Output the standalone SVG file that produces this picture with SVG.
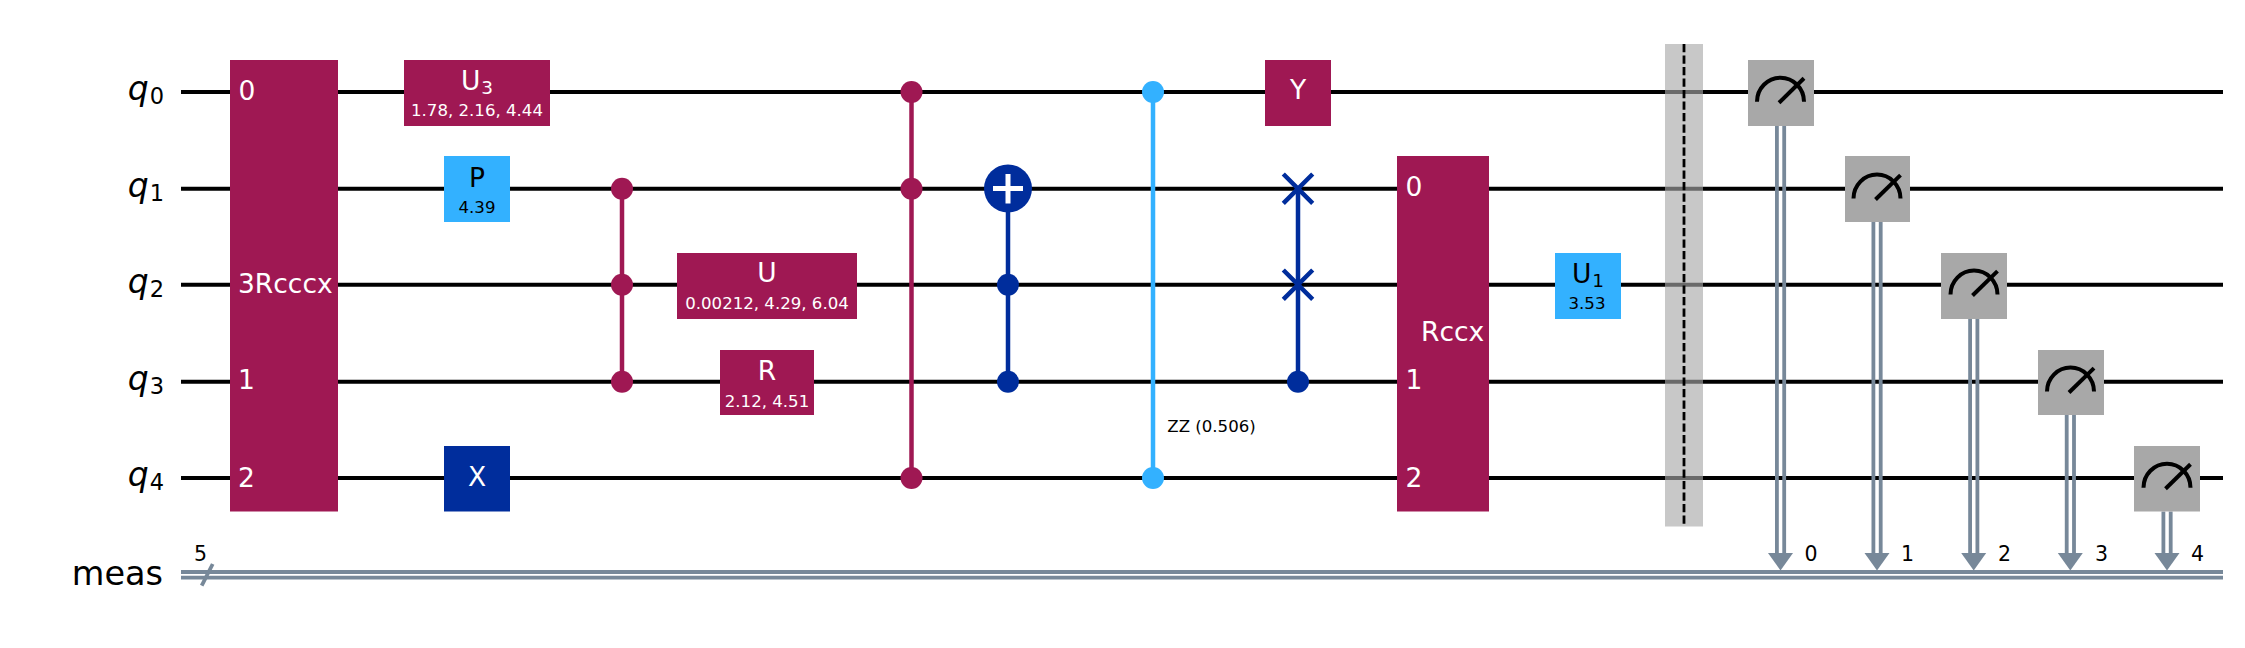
<svg xmlns="http://www.w3.org/2000/svg" xmlns:xlink="http://www.w3.org/1999/xlink" width="2245" height="648" viewBox="0 0 2245 648">
<style>
text{font-family:"DejaVu Sans",sans-serif;fill:#000}
.w{fill:#fff}
.g{font-size:26.5px}
.s{font-size:16.6px}
.r{font-size:20.5px}
.m{text-anchor:middle}
.sub{font-size:18.5px}
.q{font-size:33px;font-style:italic;text-anchor:end}
.qs{font-size:22.5px;font-style:normal}
.wire{stroke:#000;stroke-width:4;fill:none}
.creg{stroke:#778899;stroke-width:3.8;fill:none}
.pu{fill:#9f1853}.bl{fill:#002d9c}.lb{fill:#33b1ff}.gr{fill:#a8a8a8}
.cpu{stroke:#9f1853;stroke-width:4.5;fill:none}
.cbl{stroke:#002d9c;stroke-width:4.5;fill:none}
.clb{stroke:#33b1ff;stroke-width:4.5;fill:none}
.meter{stroke:#000;stroke-width:4;fill:none}
</style>
<defs>
<g id="dial"><path class="meter" d="M-23.5 9.7A23.5 24 0 0 1 23.500 9.7"/><path class="meter" d="M-1.500 10.700L23.500-13.700"/></g>
<polygon id="arrow" points="-12.500,0 12.500,0 0,17.500" fill="#778899"/>
</defs>
<rect width="2245" height="648" fill="#fff"/>
<g id="connectors">
<path class="wire" d="M181 92H2223M181 188.800H2223M181 284.800H2223M181 381.800H2223M181 478H2223"/>
<path class="creg" d="M181 572H2223M181 577.700H2223"/>
<path d="M201.700 585.700L212.700 564" stroke="#778899" stroke-width="3.800" fill="none"/>
<path class="cpu" d="M622 188.800V381.800"/>
<path class="cpu" d="M911.500 92V478"/>
<path class="cbl" d="M1008 188.800V381.800"/>
<path class="clb" d="M1153 92V478"/>
<path class="cbl" d="M1298 188.800V381.800"/>
<g id="barrier">
<rect x="1665" y="44" width="38" height="482.500" fill="#a8a8a8" fill-opacity=".63"/>
<path d="M1684 44V526.500" stroke="#000" stroke-width="2.800" stroke-dasharray="8.200 3.300" fill="none"/>
</g>
<path class="creg" d="M1776.900 126V553M1784.200 126V553M1873.400 222V553M1880.700 222V553M1970.100 319V553M1977.400 319V553M2066.700 415V553M2074 415V553M2163.400 511.500V553M2170.700 511.500V553"/>
<use xlink:href="#arrow" href="#arrow" x="1780.500" y="553"/>
<use xlink:href="#arrow" href="#arrow" x="1877" y="553"/>
<use xlink:href="#arrow" href="#arrow" x="1973.700" y="553"/>
<use xlink:href="#arrow" href="#arrow" x="2070.300" y="553"/>
<use xlink:href="#arrow" href="#arrow" x="2167" y="553"/>
</g>
<g id="labels">
<text class="q" x="164" y="100">q<tspan class="qs" dx="1" dy="4.400">0</tspan></text>
<text class="q" x="164" y="196.800">q<tspan class="qs" dx="1" dy="4.400">1</tspan></text>
<text class="q" x="164" y="292.800">q<tspan class="qs" dx="1" dy="4.400">2</tspan></text>
<text class="q" x="164" y="389.800">q<tspan class="qs" dx="1" dy="4.400">3</tspan></text>
<text class="q" x="164" y="486">q<tspan class="qs" dx="1" dy="4.400">4</tspan></text>
<text x="163" y="585" font-size="33.500" text-anchor="end">meas</text>
<text class="r m" x="200.500" y="560.500">5</text>
<text class="r m" x="1811" y="560.500">0</text>
<text class="r m" x="1907.500" y="560.500">1</text>
<text class="r m" x="2004.500" y="560.500">2</text>
<text class="r m" x="2101.500" y="560.500">3</text>
<text class="r m" x="2197.500" y="560.500">4</text>
</g>
<g id="gate-rcccx">
<rect class="pu" x="230" y="60" width="108" height="451.500"/>
<text class="g w" x="238.500" y="99.500">0</text>
<text class="g w" x="238" y="389">1</text>
<text class="g w" x="238" y="486.500">2</text>
<text class="g w" x="238" y="292.500">3Rcccx</text>
</g>
<g id="gate-u3">
<rect class="pu" x="404" y="60" width="146" height="66"/>
<text class="g w m" x="477" y="90">U<tspan class="sub" dx="1" dy="3.500">3</tspan></text>
<text class="s w m" x="477" y="116">1.78, 2.16, 4.44</text>
</g>
<g id="gate-p">
<rect class="lb" x="444" y="156" width="66" height="66"/>
<text class="g m" x="477" y="187">P</text>
<text class="s m" x="477" y="213">4.39</text>
</g>
<g id="gate-x">
<rect class="bl" x="444" y="446" width="66" height="65.500"/>
<text class="g w m" x="477" y="486">X</text>
</g>
<g id="gate-ccz" class="pu">
<circle cx="622" cy="188.800" r="11"/><circle cx="622" cy="284.800" r="11"/><circle cx="622" cy="381.800" r="11"/>
</g>
<g id="gate-u">
<rect class="pu" x="677" y="253" width="180" height="66"/>
<text class="g w m" x="767" y="282">U</text>
<text class="s w m" x="767" y="309">0.00212, 4.29, 6.04</text>
</g>
<g id="gate-r">
<rect class="pu" x="720" y="350" width="94" height="65"/>
<text class="g w m" x="767" y="379.500">R</text>
<text class="s w m" x="767" y="406.700">2.12, 4.51</text>
</g>
<g id="gate-cccz" class="pu">
<circle cx="911.500" cy="92" r="11"/><circle cx="911.500" cy="188.800" r="11"/><circle cx="911.500" cy="478" r="11"/>
</g>
<g id="gate-ccx">
<circle class="bl" cx="1008" cy="284.800" r="11"/><circle class="bl" cx="1008" cy="381.800" r="11"/>
<circle class="bl" cx="1008" cy="188.500" r="24"/>
<path d="M993 188.500H1023M1008 174V203.500" stroke="#fff" stroke-width="5" fill="none"/>
</g>
<g id="gate-zz">
<circle class="lb" cx="1153" cy="92" r="11"/><circle class="lb" cx="1153" cy="478" r="11"/>
<text class="s" x="1167.300" y="431.700">ZZ (0.506)</text>
</g>
<g id="gate-y">
<rect class="pu" x="1265" y="60" width="66" height="66"/>
<text class="g w m" x="1298" y="99">Y</text>
</g>
<g id="gate-cswap">
<path class="cbl" d="M1283.300 174L1312.700 203.400M1283.300 203.400L1312.700 174M1283.300 270L1312.700 299.400M1283.300 299.400L1312.700 270"/>
<circle class="bl" cx="1298" cy="381.800" r="11"/>
</g>
<g id="gate-rccx">
<rect class="pu" x="1397" y="156" width="92" height="355.500"/>
<text class="g w" x="1405.500" y="195.500">0</text>
<text class="g w" x="1405.500" y="389">1</text>
<text class="g w" x="1405.500" y="486.500">2</text>
<text class="g w" x="1421" y="341">Rccx</text>
</g>
<g id="gate-u1">
<rect class="lb" x="1555" y="253" width="66" height="66"/>
<text class="g m" x="1588" y="283">U<tspan class="sub" dx="1" dy="3.500">1</tspan></text>
<text class="s m" x="1587" y="309">3.53</text>
</g>
<g id="measure-0"><rect class="gr" x="1748" y="60" width="66" height="66"/><use xlink:href="#dial" href="#dial" x="1780.500" y="92"/></g>
<g id="measure-1"><rect class="gr" x="1845" y="156" width="65" height="66"/><use xlink:href="#dial" href="#dial" x="1877" y="188.800"/></g>
<g id="measure-2"><rect class="gr" x="1941" y="253" width="66" height="66"/><use xlink:href="#dial" href="#dial" x="1974" y="284.800"/></g>
<g id="measure-3"><rect class="gr" x="2038" y="350" width="66" height="65"/><use xlink:href="#dial" href="#dial" x="2070.500" y="381.800"/></g>
<g id="measure-4"><rect class="gr" x="2134" y="446" width="66" height="65.500"/><use xlink:href="#dial" href="#dial" x="2167" y="478"/></g>
</svg>
